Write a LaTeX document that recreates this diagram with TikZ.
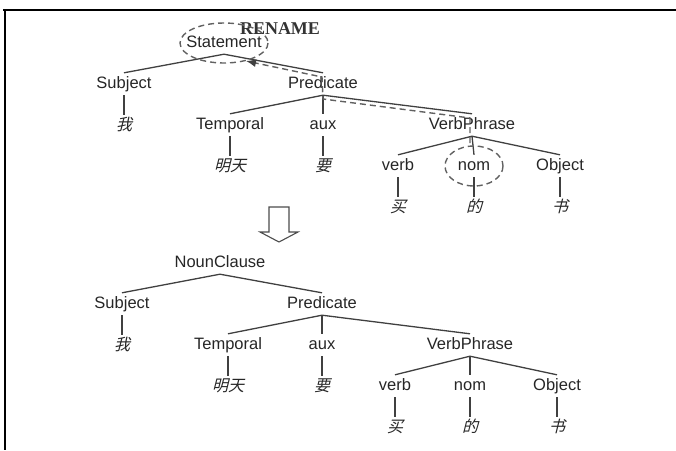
\documentclass[tikz,border=0pt]{standalone}
\usepackage{fontspec}
\setmainfont{Liberation Sans}
\newfontfamily\cjk[FakeSlant=0.25]{Noto Sans CJK SC}
\newfontfamily\serifrm{Liberation Serif}
\usetikzlibrary{arrows.meta}

\tikzset{
  lab/.style={inner sep=3pt, text height=12pt, text depth=4pt, text=black!85, font=\fontsize{16.5}{19}\selectfont},
  word/.style={lab, font=\fontsize{16}{18}\selectfont\cjk},
  branch/.style={draw=black!75, line width=1.3pt},
  ring/.style={draw=black!62, line width=1.4pt, dash pattern=on 6pt off 4pt},
}

\begin{document}
\begin{tikzpicture}[x=1pt,y=1pt,yscale=-1,xscale=1]
\useasboundingbox (0,0) rectangle (676,450);
%Frame
\draw [line width=2.2pt] (3,10) -- (676,10);
\draw [line width=2.2pt] (5,10) -- (5,450);

% Text Node
\node [lab] (stmt) at (224,43) {Statement};
\node [lab] (subjA) at (124,84) {Subject};
\node [lab] (predA) at (323,84) {Predicate};
\node [word] (woA) at (124,126) {我};
\node [lab] (tempA) at (230,125) {Temporal};
\node [lab] (auxA) at (323,125) {aux};
\node [lab] (vpA) at (472,125) {VerbPhrase};
\node [word] (mtA) at (230,167) {明天};
\node [word] (yaoA) at (323,167) {要};
\node [lab] (verbA) at (398,166) {verb};
\node [lab] (nomA) at (474,166) {nom};
\node [lab] (objA) at (560,166) {Object};
\node [word] (maiA) at (398,208) {买};
\node [word] (deA) at (474,208) {的};
\node [word] (shuA) at (560,208) {书};
\node [text=black!80, inner sep=0pt, font=\fontsize{18}{20}\selectfont\serifrm\bfseries] (ren) at (280,29) {RENAME};

%Tree Lines
\draw [branch] (stmt.south) -- (subjA.north);
\draw [branch] (stmt.south) -- (predA.north);
\draw [branch] (subjA.south) -- (woA.north);
\draw [branch] (predA.south) -- (tempA.north);
\draw [branch] (predA.south) -- (auxA.north);
\draw [branch] (predA.south) -- (vpA.north);
\draw [branch] (tempA.south) -- (mtA.north);
\draw [branch] (auxA.south) -- (yaoA.north);
\draw [branch] (vpA.south) -- (verbA.north);
\draw [branch] (vpA.south) -- (nomA.north);
\draw [branch] (vpA.south) -- (objA.north);
\draw [branch] (verbA.south) -- (maiA.north);
\draw [branch] (nomA.south) -- (deA.north);
\draw [branch] (objA.south) -- (shuA.north);

%Rings and move
\draw [ring] (stmt) ellipse [x radius=44, y radius=20];
\draw [ring] (nomA) ellipse [x radius=29, y radius=20];
\coordinate (r0) at (470,143);
\coordinate (r1) at (470,118);
\coordinate (r2) at (323,99);
\coordinate (r3) at (322,77);
\coordinate (r4) at (246,61);
\draw [ring, -{Latex[length=10pt,width=8pt,color=black!75]}] (r0) -- (r1) -- (r2) -- (r3) -- (r4);

%Shape: Hollow arrow
\draw [draw=black!70, line width=1.1pt] (269,207) -- (289,207) -- (289,232) -- (298,232) -- (279,242) -- (260,232) -- (269,232) -- cycle;

% Text Node
\node [lab] (nc) at (220,263) {NounClause};
\node [lab] (subjB) at (122,304) {Subject};
\node [lab] (predB) at (322,304) {Predicate};
\node [word] (woB) at (122,346) {我};
\node [lab] (tempB) at (228,345) {Temporal};
\node [lab] (auxB) at (322,345) {aux};
\node [lab] (vpB) at (470,345) {VerbPhrase};
\node [word] (mtB) at (228,387) {明天};
\node [word] (yaoB) at (322,387) {要};
\node [lab] (verbB) at (395,386) {verb};
\node [lab] (nomB) at (470,386) {nom};
\node [lab] (objB) at (557,386) {Object};
\node [word] (maiB) at (395,428) {买};
\node [word] (deB) at (470,428) {的};
\node [word] (shuB) at (557,428) {书};

%Tree Lines
\draw [branch] (nc.south) -- (subjB.north);
\draw [branch] (nc.south) -- (predB.north);
\draw [branch] (subjB.south) -- (woB.north);
\draw [branch] (predB.south) -- (tempB.north);
\draw [branch] (predB.south) -- (auxB.north);
\draw [branch] (predB.south) -- (vpB.north);
\draw [branch] (tempB.south) -- (mtB.north);
\draw [branch] (auxB.south) -- (yaoB.north);
\draw [branch] (vpB.south) -- (verbB.north);
\draw [branch] (vpB.south) -- (nomB.north);
\draw [branch] (vpB.south) -- (objB.north);
\draw [branch] (verbB.south) -- (maiB.north);
\draw [branch] (nomB.south) -- (deB.north);
\draw [branch] (objB.south) -- (shuB.north);

\end{tikzpicture}
\end{document}
